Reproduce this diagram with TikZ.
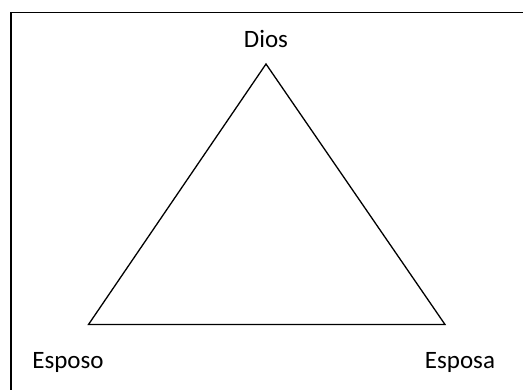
\documentclass[tikz,border=0pt]{standalone}
\usepackage{fontspec}
\setmainfont{Carlito}
\usepackage{tikz}
\usetikzlibrary{positioning}

\begin{document}
\begin{tikzpicture}[
  x=1pt,
  y=-1pt,
  every node/.style={
    inner sep=0pt,
    anchor=base,
    font=\fontsize{25}{30}\selectfont
  },
  frame/.style={
    draw=black,
    line width=1.4pt
  },
  side/.style={
    draw=black,
    line width=1.3pt,
    line join=miter
  }
]
\useasboundingbox (0,0) rectangle (523,390);
\clip (0,0) rectangle (523,390);

% outer frame
\draw[frame] (11,12.5) rectangle (540,410);

% corners of the triangle
\coordinate (top)   at (266,64);
\coordinate (left)  at (88.5,324.5);
\coordinate (right) at (445,324.5);

% labels
\node (dios)   at (266,48)  {Dios};
\node (esposo) at (68,369)  {Esposo};
\node (esposa) at (460,369) {Esposa};

% triangle
\draw[side] (top) -- (left) -- (right) -- cycle;

\end{tikzpicture}
\end{document}
